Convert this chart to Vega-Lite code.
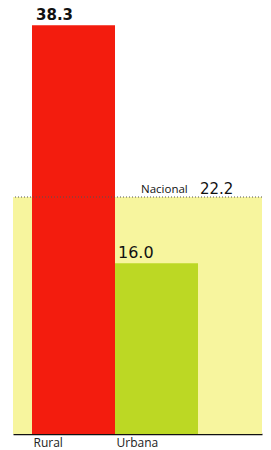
{
  "$schema": "https://vega.github.io/schema/vega-lite/v6.json",
  "width": 249,
  "height": 427,
  "autosize": "none",
  "padding": {"left": 13, "top": 7, "right": 9, "bottom": 16},
  "background": "white",
  "config": {"view": {"stroke": null}},
  "datasets": {
    "bars": [
      {"zona": "Rural", "valor": 38.3, "etiqueta": "38.3"},
      {"zona": "Urbana", "valor": 16.0, "etiqueta": "16.0"}
    ],
    "nacional": [
      {"zona": "Urbana", "valor": 22.2, "nombre": "Nacional", "etiqueta": "22.2"}
    ]
  },
  "layer": [
    {
      "data": {"name": "nacional"},
      "mark": {"type": "rect", "color": "#f7f59e"},
      "encoding": {
        "y": {"field": "valor", "type": "quantitative", "scale": {"domain": [0, 40]}, "axis": null},
        "y2": {"datum": 0}
      }
    },
    {
      "data": {"name": "bars"},
      "mark": {"type": "bar", "width": {"band": 1}},
      "encoding": {
        "x": {
          "field": "zona", "type": "nominal",
          "scale": {"domain": ["Rural", "Urbana"], "paddingInner": 0, "paddingOuter": 0.5, "align": 0.229},
          "axis": {
            "title": null, "labelAngle": 0, "ticks": false,
            "labelAlign": "left", "labelOffset": -40, "labelPadding": 3,
            "labelFont": "Open Sans", "labelFontSize": 12, "labelColor": "#222",
            "domainColor": "#111", "domainWidth": 1.5
          }
        },
        "y": {"field": "valor", "type": "quantitative"},
        "color": {
          "field": "zona", "type": "nominal", "legend": null,
          "scale": {"domain": ["Rural", "Urbana"], "range": ["#f31c0e", "#bcd824"]}
        }
      }
    },
    {
      "data": {"name": "nacional"},
      "mark": {"type": "rule", "color": "#555", "strokeDash": [1, 2], "strokeWidth": 1},
      "encoding": {
        "y": {"field": "valor", "type": "quantitative"}
      }
    },
    {
      "data": {"name": "bars"},
      "transform": [{"filter": "datum.zona == 'Rural'"}],
      "mark": {"type": "text", "align": "left", "baseline": "alphabetic", "dx": 4, "dy": -5, "font": "DejaVu Sans", "fontWeight": "bold", "fontSize": 15, "color": "#111"},
      "encoding": {
        "x": {"field": "zona", "type": "nominal", "bandPosition": 0},
        "y": {"field": "valor", "type": "quantitative"},
        "text": {"field": "etiqueta"}
      }
    },
    {
      "data": {"name": "bars"},
      "transform": [{"filter": "datum.zona == 'Urbana'"}],
      "mark": {"type": "text", "align": "left", "baseline": "alphabetic", "dx": 3, "dy": -5, "font": "DejaVu Sans", "fontSize": 16, "color": "#111"},
      "encoding": {
        "x": {"field": "zona", "type": "nominal", "bandPosition": 0},
        "y": {"field": "valor", "type": "quantitative"},
        "text": {"field": "etiqueta"}
      }
    },
    {
      "data": {"name": "nacional"},
      "mark": {"type": "text", "align": "left", "baseline": "alphabetic", "dx": 26, "dy": -4, "font": "Open Sans", "fontSize": 11.5, "color": "#111"},
      "encoding": {
        "x": {"field": "zona", "type": "nominal", "bandPosition": 0},
        "y": {"field": "valor", "type": "quantitative"},
        "text": {"field": "nombre"}
      }
    },
    {
      "data": {"name": "nacional"},
      "mark": {"type": "text", "align": "left", "baseline": "alphabetic", "dx": 85, "dy": -3, "font": "DejaVu Sans", "fontSize": 15, "color": "#111"},
      "encoding": {
        "x": {"field": "zona", "type": "nominal", "bandPosition": 0},
        "y": {"field": "valor", "type": "quantitative"},
        "text": {"field": "etiqueta"}
      }
    }
  ]
}
